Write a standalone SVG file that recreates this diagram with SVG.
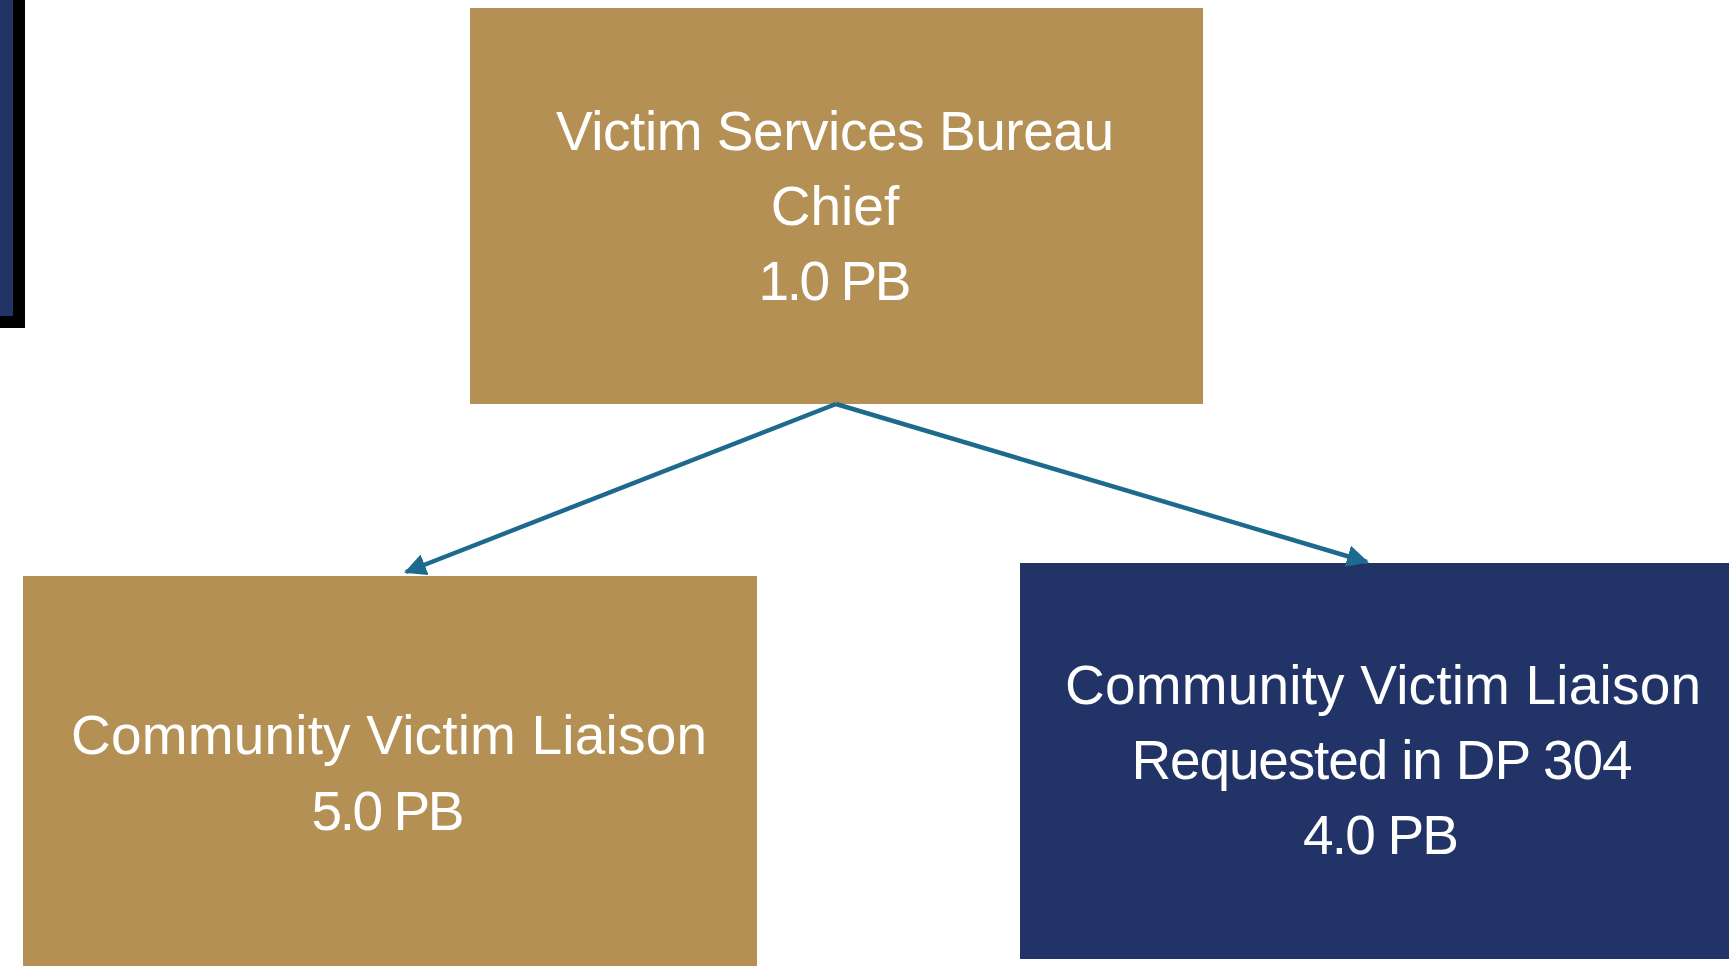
<svg xmlns="http://www.w3.org/2000/svg" width="1729" height="966" viewBox="0 0 1729 966">
  <defs>
    <style>
      .gold { fill: #B49055; }
      .navy { fill: #223367; }
      .lbl { font-family: "Liberation Sans", Arial, sans-serif; font-size: 55px; fill: #FFFFFF; text-anchor: middle; }
      .conn { stroke: #1E6A8E; stroke-width: 4.5; fill: none; }
    </style>
    <marker id="arrow" markerUnits="userSpaceOnUse" markerWidth="24" markerHeight="22" refX="20" refY="11" orient="auto">
      <path d="M0,0 L22,11 L0,22 Z" fill="#1E6A8E"/>
    </marker>
  </defs>
  <rect x="0" y="0" width="1729" height="966" fill="#FFFFFF"/>

  <g id="partial-node">
    <rect x="-50" y="-50" width="69" height="372" class="navy" stroke="#000000" stroke-width="12"/>
  </g>

  <g id="bureau-chief">
    <rect x="470" y="8" width="733" height="396" class="gold"/>
    <text class="lbl" x="835" y="150" textLength="558">Victim Services Bureau</text>
    <text class="lbl" x="835" y="225">Chief</text>
    <text class="lbl" x="835" y="300" textLength="153">1.0 PB</text>
  </g>

  <g id="liaison-existing">
    <rect x="23" y="576" width="734" height="400" class="gold"/>
    <text class="lbl" x="389" y="754" textLength="636">Community Victim Liaison</text>
    <text class="lbl" x="388" y="830" textLength="153">5.0 PB</text>
  </g>

  <g id="liaison-requested">
    <rect x="1020" y="563" width="720" height="396" class="navy"/>
    <text class="lbl" x="1383" y="704" textLength="636">Community Victim Liaison</text>
    <text class="lbl" x="1382" y="779" textLength="501">Requested in DP 304</text>
    <text class="lbl" x="1381" y="854" textLength="156">4.0 PB</text>
  </g>

  <g id="connectors">
    <line class="conn" x1="836" y1="404" x2="406" y2="572" marker-end="url(#arrow)"/>
    <line class="conn" x1="836" y1="404" x2="1367" y2="562" marker-end="url(#arrow)"/>
  </g>
</svg>
